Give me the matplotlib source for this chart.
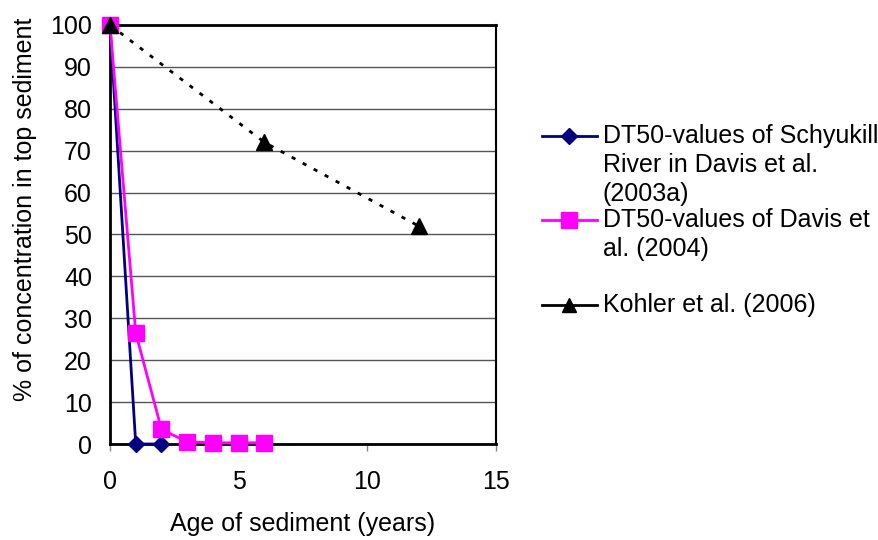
import matplotlib
matplotlib.use("Agg")
import matplotlib.pyplot as plt
from matplotlib.lines import Line2D

plt.rcParams['font.family'] = ['Liberation Sans', 'DejaVu Sans']

# Sediment age (years) and remaining concentration (%)
age_schuylkill = [0, 1, 2]
conc_schuylkill = [100, 0, 0]

age_davis = [0, 1, 2, 3, 4, 5, 6]
conc_davis = [100, 26.5, 3.5, 0.5, 0.3, 0.3, 0.3]

age_kohler = [0, 6, 12]
conc_kohler = [100, 72, 52]

legend_labels = [
    ["DT50-values of Schyukill", "River in Davis et al.", "(2003a)"],
    ["DT50-values of Davis et", "al. (2004)"],
    ["Kohler et al. (2006)"],
]

W, H = 879, 540
fig = plt.figure(figsize=(W / 100, H / 100), dpi=100)
ax = fig.add_axes([110 / W, 1 - 444 / H, 386 / W, 419 / H])

fs = 18

ax.plot(age_schuylkill, conc_schuylkill, color='#000080', lw=2, marker='D',
        ms=8, clip_on=False, zorder=3)
ax.plot(age_davis, conc_davis, color='#FF00FF', lw=2, marker='s',
        ms=11.5, clip_on=False, zorder=4)
ax.plot(age_kohler, conc_kohler, color='black', lw=2, ls=(0, (1.5, 3)),
        marker='^', ms=11, clip_on=False, zorder=5)

ax.set_xlim(0, 15)
ax.set_ylim(0, 100)
ax.set_xticks([0, 5, 10, 15])
ax.set_yticks(range(0, 101, 10))
ax.yaxis.grid(True, color='#555555', lw=1)
ax.set_axisbelow(True)

for side in ['left', 'top', 'bottom']:
    ax.spines[side].set_linewidth(2)
ax.spines['right'].set_linewidth(1.5)

ax.tick_params(axis='x', direction='out', length=5, width=1, color='#888888',
               pad=14, labelsize=fs)
ax.tick_params(axis='y', length=0, pad=13, labelsize=fs)

ax.set_xlabel('Age of sediment (years)', fontsize=fs, va='center')
ax.xaxis.set_label_coords(0.5, -0.19)
ax.set_ylabel('% of concentration in top sediment', fontsize=fs, va='center')
ax.yaxis.set_label_coords(-0.22, 0.56)

# Legend drawn beside the plot, handle aligned with the first text line
handles = [
    dict(color='#000080', marker='D', ms=8),
    dict(color='#FF00FF', marker='s', ms=11.5),
    dict(color='black', marker='^', ms=10),
]
first_line_y = [136, 220, 305]
line_step = 29
for style, y0, lines in zip(handles, first_line_y, legend_labels):
    yf = 1 - y0 / H
    fig.add_artist(Line2D([542 / W, 597 / W], [yf, yf],
                          transform=fig.transFigure, lw=2,
                          color=style['color']))
    fig.add_artist(Line2D([569.5 / W], [yf], transform=fig.transFigure,
                          color=style['color'], marker=style['marker'],
                          ms=style['ms'], ls='none'))
    for i, txt in enumerate(lines):
        fig.text(603 / W, 1 - (y0 + i * line_step) / H, txt, fontsize=fs,
                 va='center', ha='left')

fig.savefig('out.png', dpi=100)
